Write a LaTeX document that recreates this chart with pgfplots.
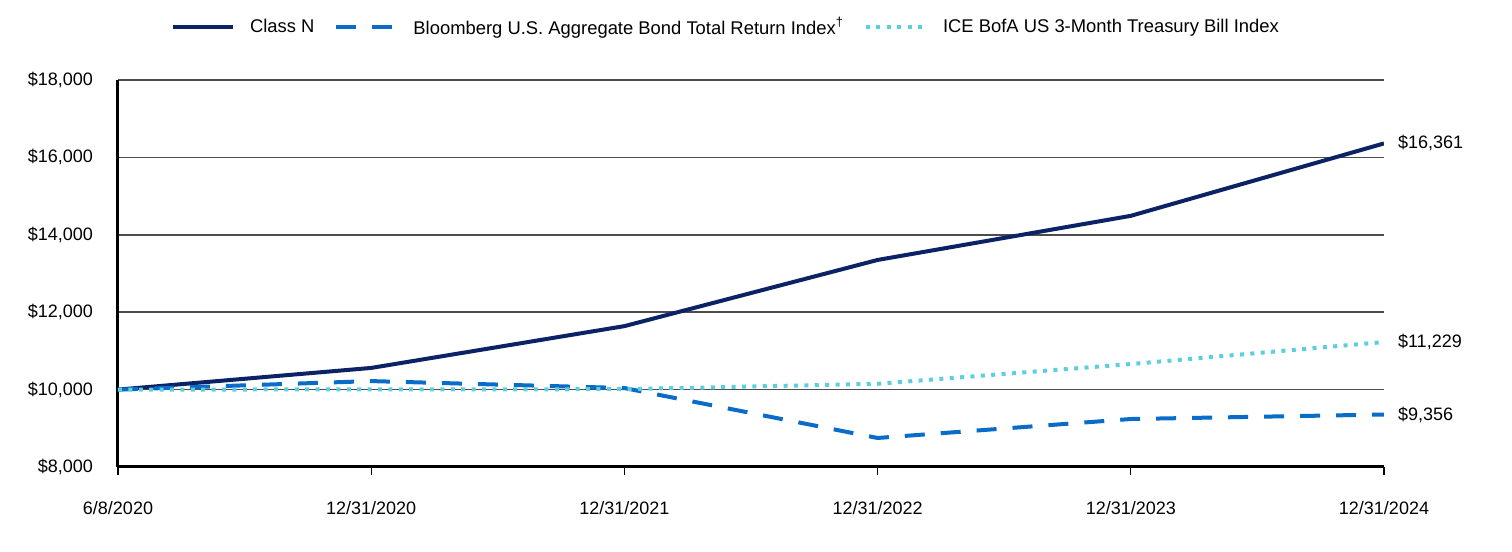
\documentclass[border=0pt]{standalone}
\usepackage{fontspec}
\setmainfont{Liberation Sans}
\usepackage{pgfplots}
\pgfplotsset{compat=1.18}
\definecolor{classn}{HTML}{0B2265}
\definecolor{bbg}{HTML}{0A6CC9}
\definecolor{ice}{HTML}{5CCFDF}
\definecolor{gridc}{HTML}{4D4D4D}
\begin{document}
\begin{tikzpicture}
\path[use as bounding box] (-59pt,-42.5pt) rectangle (697pt,233.5pt);
\begin{axis}[
  at={(0,0)}, anchor=south west, scale only axis,
  width=633pt, height=193.5pt,
  xmin=0, xmax=5, ymin=8000, ymax=18000,
  xtick={0,1,2,3,4,5},
  xticklabels={6/8/2020,12/31/2020,12/31/2021,12/31/2022,12/31/2023,12/31/2024},
  ytick={8000,10000,12000,14000,16000,18000},
  scaled y ticks=false,
  yticklabel={\$\pgfmathprintnumber[fixed,precision=0,1000 sep={,}]{\tick}},
  /pgf/number format/assume math mode=true,
  axis lines=left, axis line style={-, line width=1.5pt, black},
  ymajorgrids, grid style={gridc, line width=0.8pt},
  tick align=outside, major tick length=4pt,
  xtick style={black, line width=0.6pt},
  ytick style={draw=none},
  font=\fontsize{9}{11}\selectfont,
  xticklabel style={yshift=-9.5pt},
  yticklabel style={xshift=-5pt},
  clip mode=individual,
  legend style={at={(0.481,1.136)}, anchor=center, draw=none, fill=none,
    legend columns=-1, inner sep=0pt,
    /tikz/every odd column/.append style={column sep=5.5pt},
    /tikz/every even column/.append style={column sep=8pt},
    font=\fontsize{9.2}{11}\selectfont},
  legend image code/.code={\draw[#1] (0pt,0pt) -- (30pt,0pt);},
]
\addplot[classn, line width=2pt] coordinates {(0,10000) (1,10560) (2,11640) (3,13350) (4,14490) (5,16361)};
\addlegendentry{Class N}
\addplot[bbg, line width=2pt, dash pattern=on 10pt off 8pt] coordinates {(0,10000) (1,10220) (2,10040) (3,8750) (4,9240) (5,9356)};
\addlegendentry{Bloomberg U.S. Aggregate Bond Total Return Index\textsuperscript{\textdagger}}
\addplot[ice, line width=2pt, dash pattern=on 2pt off 3.2pt] coordinates {(0,10000) (1,10005) (2,10010) (3,10150) (4,10660) (5,11229)};
\addlegendentry{ICE BofA US 3-Month Treasury Bill Index}
\node[anchor=west, xshift=3.5pt, font=\fontsize{9}{11}\selectfont] at (axis cs:5,16361) {\$16,361};
\node[anchor=west, xshift=3.5pt, font=\fontsize{9}{11}\selectfont] at (axis cs:5,11229) {\$11,229};
\node[anchor=west, xshift=3.5pt, font=\fontsize{9}{11}\selectfont] at (axis cs:5,9356) {\$9,356};
\end{axis}
\end{tikzpicture}
\end{document}
